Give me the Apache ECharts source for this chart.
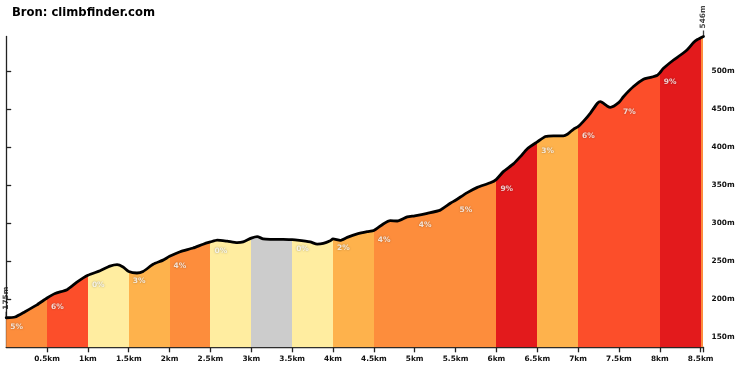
<!DOCTYPE html>
<html><head><meta charset="utf-8">
<script src="https://cdn.jsdelivr.net/npm/echarts@6/dist/echarts.min.js"></script>
<style>html,body{margin:0;padding:0;background:#fff}#c{width:740px;height:370px}</style>
</head><body><div id="c"></div>
<script>
// ---------- data ----------
const chartTitle = 'Bron: climbfinder.com';
const distKm = [0, 0.108, 0.23, 0.377, 0.5, 0.598, 0.745, 0.879, 1.0, 1.149, 1.27, 1.357, 1.43, 1.5, 1.6, 1.675, 1.798, 1.92, 2.0,
  2.129, 2.288, 2.411, 2.5, 2.582, 2.705, 2.827, 2.9, 3.0, 3.072, 3.145, 3.231, 3.39, 3.5, 3.562, 3.721, 3.807, 3.881, 3.966, 4.0,
  4.089, 4.174, 4.297, 4.419, 4.5, 4.615, 4.701, 4.787, 4.909, 5.0, 5.154, 5.313, 5.436, 5.5, 5.644, 5.767, 5.926, 6.0,
  6.085, 6.208, 6.293, 6.379, 6.5, 6.6, 6.698, 6.82, 6.869, 6.943, 7.0, 7.065, 7.151, 7.237, 7.273, 7.359, 7.396, 7.5,
  7.555, 7.678, 7.8, 7.886, 7.971, 8.0, 8.045, 8.168, 8.254, 8.339, 8.413, 8.461, 8.535];
const elevM = [175, 176, 183, 192, 201, 207, 212, 223, 231, 237, 243, 245, 242, 236, 234, 236, 245.5, 251, 256,
  262, 267, 272, 275, 277.5, 276, 274, 275, 280, 282, 279, 278.5, 278.5, 278, 277.5, 275, 272, 273, 276.5, 279,
  277, 281, 285.5, 288.5, 290, 298.7, 303, 302.6, 308, 309.5, 312.8, 317, 326, 330, 340, 347, 353, 357.6,
  367.7, 378, 387.5, 398, 407, 414, 415, 415, 417, 423.6, 427, 434, 445, 458, 460, 454, 452.6, 459,
  466.6, 480, 489.6, 492, 495, 498, 504, 515, 521.6, 529, 538, 542, 546];
const segStartKm = [0, 0.5, 1, 1.5, 2, 2.5, 3, 3.5, 4, 4.5, 5, 5.5, 6, 6.5, 7, 7.5, 8, 8.5];
const segEndKm   = [0.5, 1, 1.5, 2, 2.5, 3, 3.5, 4, 4.5, 5, 5.5, 6, 6.5, 7, 7.5, 8, 8.5, 8.535];
const segGrade   = ['5%', '6%', '0%', '3%', '4%', '0%', '', '0%', '2%', '4%', '4%', '5%', '9%', '3%', '6%', '7%', '9%', '5%'];
const xTickKm = [0.5, 1, 1.5, 2, 2.5, 3, 3.5, 4, 4.5, 5, 5.5, 6, 6.5, 7, 7.5, 8, 8.5];
const yTickM = [150, 200, 250, 300, 350, 400, 450, 500];

// ---------- styles ----------
const gradeColor = {
  '': '#CCCCCC', '0%': '#FFEDA0', '2%': '#FEB24C', '3%': '#FEB24C',
  '4%': '#FD8D3C', '5%': '#FD8D3C', '6%': '#FC4E2A', '7%': '#FC4E2A', '9%': '#E31A1C'
};
const FONT = '"DejaVu Sans", Verdana, sans-serif';
const profile = distKm.map((d, i) => [d, elevM[i]]);
const elevAt = km => elevM[distKm.indexOf(km)];

const pieces = segStartKm.map((s, i) => ({ gte: s, lt: segEndKm[i], color: gradeColor[segGrade[i]] }));
pieces[pieces.length - 1].lte = segEndKm[segEndKm.length - 1];
delete pieces[pieces.length - 1].lt;

const gradeLabels = segStartKm
  .map((s, i) => ({ s, g: segGrade[i], w: segEndKm[i] - s }))
  .filter(o => o.g !== '' && o.w >= 0.25)
  .map(o => [o.s, elevAt(o.s), o.g]);

const endLabels = [profile[0], profile[profile.length - 1]];

const chart = echarts.init(document.getElementById('c'), null, { renderer: 'canvas' });
chart.setOption({
  animation: false,
  backgroundColor: '#fff',
  title: {
    text: chartTitle, left: 12, top: 7, padding: 0,
    textStyle: { fontFamily: FONT, fontWeight: 'bold', fontSize: 11.6, color: '#000' }
  },
  grid: { left: 6.2, right: 36.5, top: 36.5, bottom: 22.7, containLabel: false },
  xAxis: {
    type: 'value', min: 0, max: distKm[distKm.length - 1],
    splitLine: { show: false },
    axisLine: { show: true, onZero: false, lineStyle: { color: '#222', width: 1.3 } },
    axisTick: { show: true, length: 5, customValues: xTickKm.concat([distKm[distKm.length - 1]]), lineStyle: { color: '#222', width: 1.3 } },
    axisLabel: {
      customValues: xTickKm, margin: 8, formatter: v => v + 'km',
      fontFamily: FONT, fontWeight: 'bold', fontSize: 7.4, color: '#111'
    }
  },
  yAxis: {
    type: 'value', position: 'right', min: 136, max: 546,
    splitLine: { show: false },
    axisLine: { show: true, lineStyle: { color: '#222', width: 1.3 } },
    axisTick: { show: true, length: 5, customValues: yTickM, lineStyle: { color: '#222', width: 1.3 } },
    axisLabel: {
      customValues: yTickM, margin: 8, formatter: v => v + 'm',
      fontFamily: FONT, fontWeight: 'bold', fontSize: 7.4, color: '#111'
    }
  },
  visualMap: {
    type: 'piecewise', show: false, dimension: 0, seriesIndex: 0, pieces: pieces
  },
  series: [
    {
      type: 'line', data: profile, smooth: 0.2, symbol: 'none', clip: true,
      lineStyle: { width: 0 }, areaStyle: { opacity: 1, origin: 'start' }, z: 1
    },
    {
      type: 'line', data: profile, smooth: 0.2, symbol: 'none', clip: false,
      lineStyle: { width: 2.8, color: '#000', join: 'round', cap: 'round' }, z: 3
    },
    {
      type: 'scatter', data: gradeLabels, symbolSize: 1, itemStyle: { color: 'transparent' }, z: 4,
      label: {
        show: true, position: [4.5, 10], align: 'left', verticalAlign: 'middle',
        formatter: p => p.data[2], color: '#fff', fontFamily: FONT, fontWeight: 'bold', fontSize: 7.5,
        textShadowColor: 'rgba(0,0,0,0.45)', textShadowBlur: 2
      }
    },
    {
      type: 'scatter', data: endLabels, symbol: 'rect', symbolSize: [1.3, 6], symbolOffset: [0, -3],
      itemStyle: { color: '#111' }, z: 5, clip: false,
      label: {
        show: true, position: 'top', distance: 2, rotate: 90, align: 'left', verticalAlign: 'middle',
        formatter: p => p.data[1] + 'm', color: '#111', fontFamily: FONT, fontWeight: 'bold', fontSize: 7.4
      }
    }
  ]
});
</script>
</body></html>
